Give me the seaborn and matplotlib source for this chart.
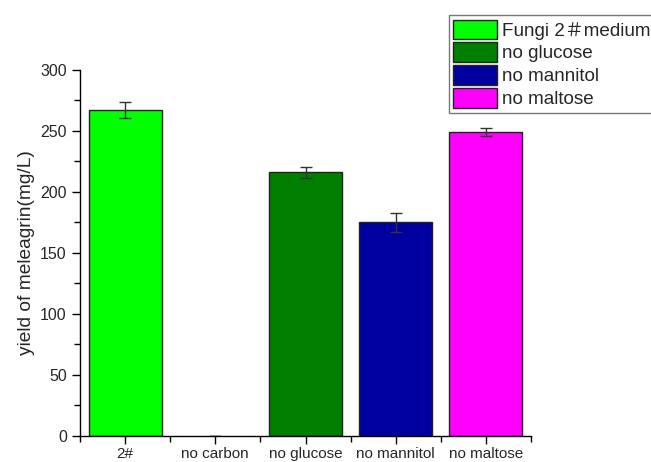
import matplotlib
matplotlib.use("Agg")
import matplotlib.pyplot as plt
import seaborn as sns
import pandas as pd
from matplotlib.patches import Patch
from matplotlib.ticker import MultipleLocator, FixedLocator

# Meleagrin yield under different carbon sources
categories = ["2#", "no carbon", "no glucose", "no mannitol", "no maltose"]
yields = [267, 0, 216, 175, 249]
errors = [6.5, 0, 4.5, 8, 3.5]
colors = ["#00FF00", "#FFFFFF", "#007F00", "#0000A0", "#FF00FF"]
legend_labels = ["Fungi 2＃medium", "no glucose", "no mannitol", "no maltose"]
legend_colors = ["#00FF00", "#007F00", "#0000A0", "#FF00FF"]

sns.set_style("ticks")
plt.rcParams["font.family"] = ["Liberation Sans", "Noto Sans CJK SC", "DejaVu Sans"]

df = pd.DataFrame({"medium": categories, "yield": yields})

fig = plt.figure(figsize=(6.51, 4.62), dpi=100)
ax = fig.add_axes([0.1229, 0.0563, 0.6928, 0.7922])

sns.barplot(data=df, x="medium", y="yield", hue="medium", palette=colors,
            order=categories, hue_order=categories, width=0.81, saturation=1,
            edgecolor="#222222", linewidth=1.0, errorbar=None,
            legend=False, ax=ax)

# hide the empty bar for the carbon-free medium
for patch, val in zip(ax.patches, yields):
    if val == 0:
        patch.set_visible(False)

ax.errorbar(range(len(categories)), yields,
            yerr=[e if v > 0 else 0 for v, e in zip(yields, errors)],
            fmt="none", ecolor="#333333", elinewidth=1.0, capsize=4, capthick=1.0)

ax.set_xlim(-0.5, 4.5)
ax.set_ylim(0, 300)
ax.yaxis.set_major_locator(MultipleLocator(50))
ax.yaxis.set_minor_locator(MultipleLocator(25))
ax.xaxis.set_minor_locator(FixedLocator([-0.5, 0.5, 1.5, 2.5, 3.5, 4.5]))
ax.tick_params(axis="both", which="major", length=6, width=1,
               direction="out", color="black")
ax.tick_params(axis="y", which="major", labelsize=11.5)
ax.tick_params(axis="x", which="major", labelsize=11, pad=2)
ax.tick_params(axis="both", which="minor", length=4, width=1, direction="out",
               color="black")

ax.set_xlabel("")
ax.set_ylabel("yield of meleagrin(mg/L)", fontsize=13.8, labelpad=4)

for side in ["top", "right"]:
    ax.spines[side].set_visible(False)
for side in ["left", "bottom"]:
    ax.spines[side].set_color("black")
    ax.spines[side].set_linewidth(1)

handles = [Patch(facecolor=c, edgecolor="#222222", linewidth=1) for c in legend_colors]
leg = fig.legend(handles, legend_labels, loc="upper left",
                 bbox_to_anchor=(0.689, 0.968), frameon=True, fancybox=False,
                 fontsize=13.6, handlelength=2.3, handleheight=1.2,
                 handletextpad=0.3, labelspacing=0.15, borderpad=0.25,
                 borderaxespad=0)
leg.get_frame().set_edgecolor("#555555")
leg.get_frame().set_linewidth(1)

fig.savefig("out.png", dpi=100)
